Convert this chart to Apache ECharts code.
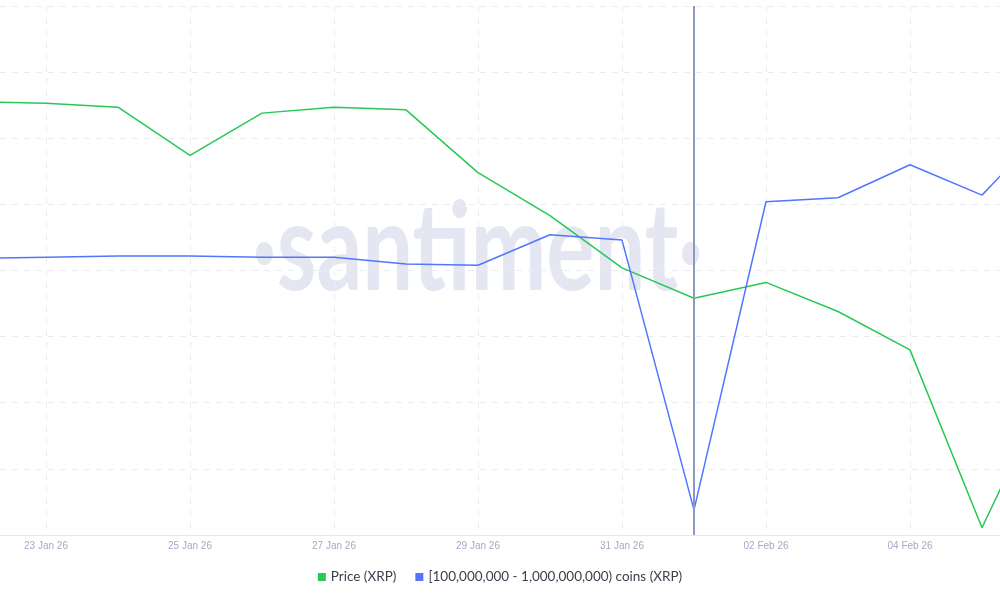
<!DOCTYPE html>
<html>
<head>
<meta charset="utf-8">
<script src="https://cdn.jsdelivr.net/npm/echarts@6/dist/echarts.min.js"></script>
<style>
  html, body { margin: 0; padding: 0; background: #fff; }
  #chart { width: 1000px; height: 600px; }
</style>
</head>
<body>
<div id="chart"></div>
<script>
// day index -1 = 22 Jan 26 ... 14 = 06 Feb 26
const dates = ['22 Jan 26', '23 Jan 26', '24 Jan 26', '25 Jan 26', '26 Jan 26', '27 Jan 26', '28 Jan 26', '29 Jan 26',
  '30 Jan 26', '31 Jan 26', '01 Feb 26', '02 Feb 26', '03 Feb 26', '04 Feb 26', '05 Feb 26', '06 Feb 26']
const priceXrp = [2.055, 2.053, 2.047, 1.974, 2.038, 2.047, 2.043, 1.948,
  1.883, 1.804, 1.758, 1.782, 1.738, 1.680, 1.411, 1.641]
const whaleCoins = [7.809, 7.810, 7.811, 7.811, 7.810, 7.810, 7.805, 7.804,
  7.827, 7.823, 7.619, 7.852, 7.855, 7.880, 7.857, 7.914]
const labelDays = [0, 2, 4, 6, 8, 10, 12]
const hoverDate = '01 Feb 26'

const seriesNames = ['Price (XRP)', '[100,000,000 - 1,000,000,000) coins (XRP)']

function pairs(vals) {
  return vals.map((v, i) => [i - 1, v])
}

let myChart = echarts.init(document.getElementById('chart'))
myChart.setOption({
  animation: false,
  color: ['#26c953', '#5275ff'],
  graphic: [
    {
      type: 'text',
      left: 252,
      top: 190,
      z: 0,
      scaleX: 0.74,
      style: {
        text: '·santiment·',
        fontFamily: 'Lato',
        fontWeight: 'bold',
        fontSize: 122,
        fill: '#e4e7f2'
      }
    }
  ],
  legend: {
    bottom: 11,
    left: 'center',
    itemWidth: 8,
    itemHeight: 8,
    itemGap: 19,
    icon: 'rect',
    textStyle: {
      color: '#3a3f4c',
      fontSize: 13.5,
      fontFamily: 'Lato'
    },
    data: seriesNames
  },
  grid: {
    left: 0,
    right: 0,
    top: 6,
    height: 529
  },
  xAxis: {
    type: 'value',
    min: -46 / 72,
    max: 954 / 72,
    axisLine: { lineStyle: { color: '#e6e8f1' } },
    axisTick: { show: false, customValues: labelDays },
    axisLabel: {
      customValues: labelDays,
      color: '#a2abc7',
      fontSize: 10,
      margin: 6,
      formatter: v => dates[Math.round(v) + 1]
    },
    splitLine: {
      show: true,
      lineStyle: { color: '#eaecf4', type: [6, 6] }
    }
  },
  yAxis: [
    {
      type: 'value',
      min: 1.4,
      max: 2.2,
      interval: 0.1,
      show: true,
      axisLine: { show: false },
      axisTick: { show: false },
      axisLabel: { show: false },
      splitLine: { lineStyle: { color: '#eaecf4', type: [6, 6] } }
    },
    {
      type: 'value',
      min: 7.6,
      max: 8.0,
      interval: 0.05,
      axisLine: { show: false },
      axisTick: { show: false },
      axisLabel: { show: false },
      splitLine: { show: false }
    }
  ],
  series: [
    {
      name: seriesNames[0],
      type: 'line',
      yAxisIndex: 0,
      showSymbol: false,
      lineStyle: { width: 1.5 },
      z: 3,
      data: pairs(priceXrp),
      markLine: {
        silent: true,
        symbol: 'none',
        label: { show: false },
        lineStyle: { color: '#8f98c2', width: 2, type: 'solid' },
        data: [{ xAxis: dates.indexOf(hoverDate) - 1 }]
      }
    },
    {
      name: seriesNames[1],
      type: 'line',
      yAxisIndex: 1,
      showSymbol: false,
      lineStyle: { width: 1.5 },
      z: 3,
      data: pairs(whaleCoins)
    }
  ]
})
</script>
</body>
</html>
